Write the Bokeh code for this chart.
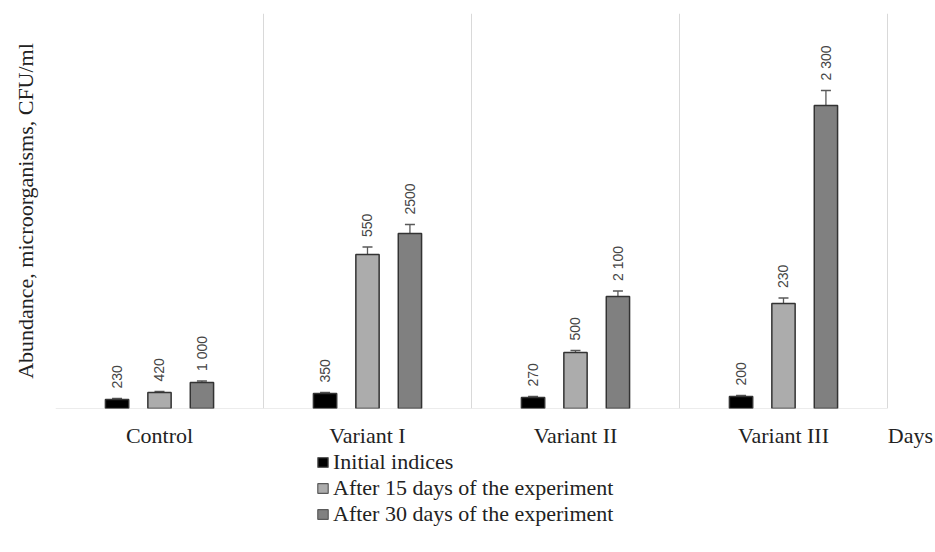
from bokeh.plotting import figure
from bokeh.layouts import column
from bokeh.models import (ColumnDataSource, Range1d, FixedTicker, Legend, LegendItem,
                          Whisker, TeeHead)
from bokeh.core.properties import value
from bokeh.embed import file_html
from bokeh.resources import INLINE
import math

categories = ["Control", "Variant I", "Variant II", "Variant III"]
axis_end_label = "Days"
series_names = ["Initial indices", "After 15 days of the experiment", "After 30 days of the experiment"]
initial = [9, 15, 11, 12]
after15 = [16, 154, 56, 105]
after30 = [26, 175, 112, 303]
err_initial = [1, 1, 1, 1]
err_after15 = [1, 7.5, 2, 5.5]
err_after30 = [1.5, 9, 5.5, 15]
lab_initial = ["230", "350", "270", "200"]
lab_after15 = ["420", "550", "500", "230"]
lab_after30 = ["1 000", "2500", "2 100", "2 300"]
colors = ["#000000", "#acacac", "#808080"]

SERIF = "Liberation Serif"
SANS = "Liberation Sans"

n = len(categories)
extra = 0.2308  # room right of the last group for the axis-end caption
p = figure(width=935, height=450, output_backend="svg", toolbar_location=None,
           x_range=Range1d(0, n + extra), y_range=Range1d(0, 395),
           min_border_left=55, min_border_right=0, min_border_top=13, min_border_bottom=42)
p.outline_line_color = None
p.background_fill_color = "white"

# baseline across the groups only
p.line(x=[0, n], y=[0, 0], line_color="#d9d9d9", line_width=1.2)

offsets = [-0.204, 0.0, 0.204]
width = 0.112
series = [(initial, err_initial, lab_initial), (after15, err_after15, lab_after15),
          (after30, err_after30, lab_after30)]
for k, (vals, errs, labs) in enumerate(series):
    xs = [i + 0.5 + offsets[k] for i in range(n)]
    src = ColumnDataSource(dict(x=xs, top=vals, up=[v + e for v, e in zip(vals, errs)],
                                lo=[v - e for v, e in zip(vals, errs)], lab=labs))
    p.vbar(x="x", top="top", bottom=0, width=width, source=src, fill_color=colors[k],
           line_color="#333333", line_width=1.5)
    w = Whisker(base="x", upper="up", lower="lo", source=src, line_color="#595959", line_width=1.3,
                upper_head=TeeHead(size=10, line_color="#595959", line_width=1.3),
                lower_head=TeeHead(size=10, line_color="#595959", line_width=1.3))
    p.add_layout(w)
    p.text(x="x", y="up", text="lab", source=src, angle=math.pi / 2, y_offset=-10,
           text_align="left", text_baseline="middle", text_font=value(SANS),
           text_font_size="14px", text_color="#454545")

tick_pos = [i + 0.5 for i in range(n)] + [n + 0.11]
tick_text = categories + [axis_end_label]
p.xaxis.ticker = FixedTicker(ticks=tick_pos)
p.xaxis.major_label_overrides = {t: c for t, c in zip(tick_pos, tick_text)}
p.xaxis.major_label_text_font = SERIF
p.xaxis.major_label_text_font_size = "22px"
p.xaxis.major_label_text_color = "#222222"
p.xaxis.major_label_standoff = 8
p.xaxis.major_tick_line_color = None
p.xaxis.minor_tick_line_color = None
p.xaxis.axis_line_color = None

p.yaxis.ticker = FixedTicker(ticks=[])
p.yaxis.axis_line_color = None
p.yaxis.major_tick_line_color = None
p.yaxis.minor_tick_line_color = None
p.yaxis.axis_label = "Abundance, microorganisms, CFU/ml"
p.yaxis.axis_label_text_font = SERIF
p.yaxis.axis_label_text_font_size = "22px"
p.yaxis.axis_label_text_font_style = "normal"
p.yaxis.axis_label_text_color = "#222222"
p.yaxis.axis_label_standoff = 18

p.xgrid.ticker = FixedTicker(ticks=list(range(n + 1)))
p.xgrid.grid_line_color = "#d9d9d9"
p.ygrid.grid_line_color = None

# legend strip below the chart (its swatch renderers sit outside the visible range)
q = figure(width=935, height=100, output_backend="svg", toolbar_location=None,
           x_range=Range1d(0, 1), y_range=Range1d(0, 1), x_axis_location=None, y_axis_location=None,
           min_border_left=0, min_border_right=0, min_border_top=0, min_border_bottom=0)
q.outline_line_color = None
q.xgrid.visible = False
q.ygrid.visible = False
hidden = ColumnDataSource(dict(left=[-10], right=[-9], top=[-9], bottom=[-10]))
legend_renderers = [q.quad(left="left", right="right", top="top", bottom="bottom", source=hidden,
                           fill_color=c, line_color="#5a5a5a", line_width=1.2) for c in colors]
legend = Legend(items=[LegendItem(label=s, renderers=[r]) for s, r in zip(series_names, legend_renderers)],
                orientation="vertical", location=(261, 23), border_line_color=None,
                background_fill_alpha=0, glyph_width=13, glyph_height=12, label_standoff=4,
                label_text_font=SERIF, label_text_font_size="22px", label_text_color="#222222",
                label_height=24, spacing=0, padding=0, margin=0)
q.add_layout(legend)

layout = column(p, q, spacing=0)
open("out.html", "w").write(file_html(layout, INLINE))
